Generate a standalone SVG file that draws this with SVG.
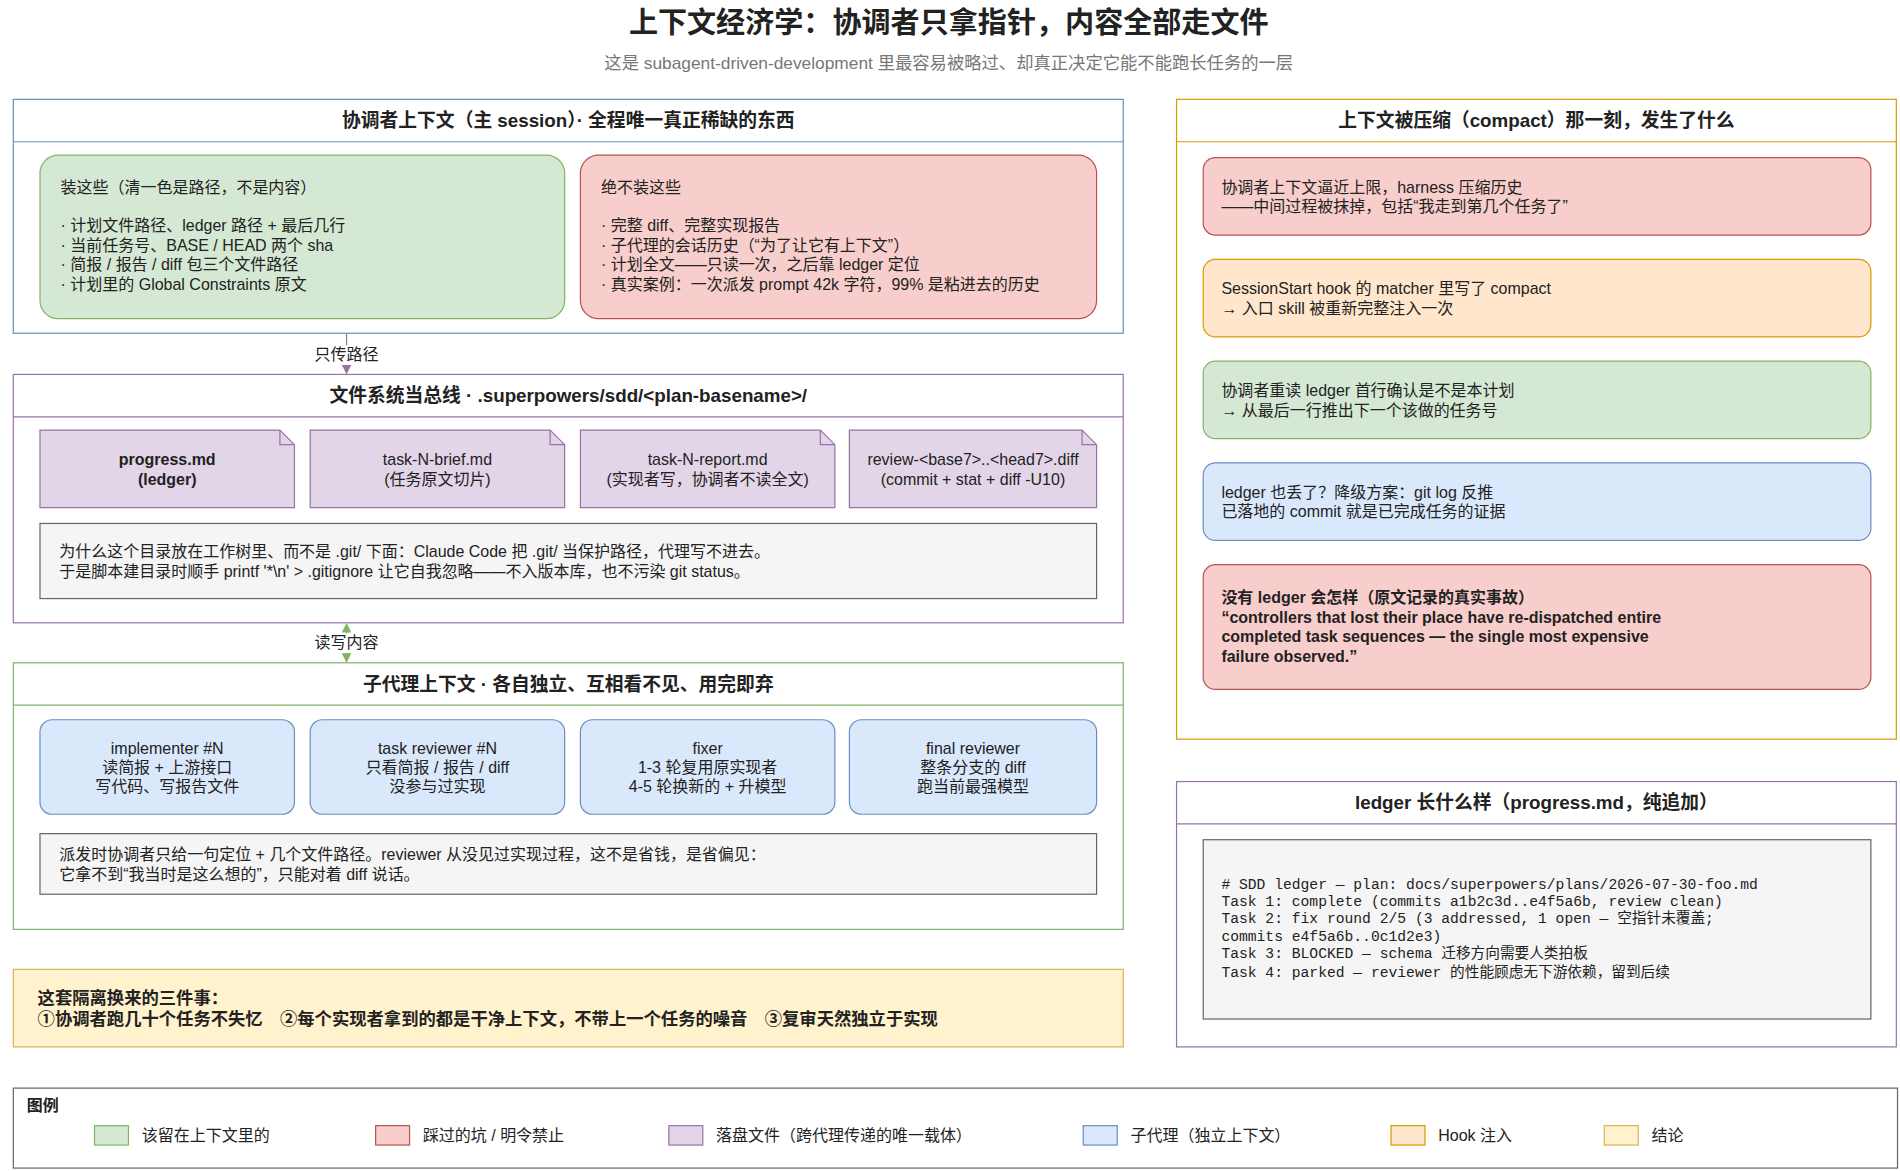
<svg xmlns="http://www.w3.org/2000/svg" width="1900" height="1171" viewBox="0 0 1900 1171">
<style>
text{font-family:"Liberation Sans","Noto Sans CJK SC",sans-serif;font-size:13.2px;fill:#222}
.t{font-size:24px;font-weight:bold;text-anchor:middle}
.st{font-size:14.3px;fill:#777;text-anchor:middle}
.h{font-size:15.5px;font-weight:bold;text-anchor:middle}
.c{text-anchor:middle}
.b{font-weight:bold}
.cb{font-weight:bold;font-size:14.3px}
.m{font-family:"Liberation Mono","Noto Sans CJK SC",monospace;font-size:12.1px}
.g{fill:#d5e8d4;stroke:#82b366}
.r{fill:#f8cecc;stroke:#b85450}
.p{fill:#e1d5e7;stroke:#9673a6}
.bl{fill:#dae8fc;stroke:#6c8ebf}
.o{fill:#ffe6cc;stroke:#d79b00}
.y{fill:#fff2cc;stroke:#d6b656}
.n{fill:#f5f5f5;stroke:#666}
.box{fill:#fff}
</style>
<defs>
<marker id="ap" markerWidth="8" markerHeight="8" refX="7" refY="4" orient="auto" markerUnits="userSpaceOnUse"><path d="M0,0L8,4L0,8z" fill="#9673a6"/></marker>
<marker id="ag" markerWidth="8" markerHeight="8" refX="7" refY="4" orient="auto-start-reverse" markerUnits="userSpaceOnUse"><path d="M0,0L8,4L0,8z" fill="#82b366"/></marker>
</defs>
<rect width="1900" height="1171" fill="#fff"/>
<g transform="scale(1.2117)">
<g id="title"><text class="t" x="783" y="27">上下文经济学：协调者只拿指针，内容全部走文件</text>
<text class="st" x="783" y="57">这是 subagent-driven-development 里最容易被略过、却真正决定它能不能跑长任务的一层</text></g>

<g id="coord">
<rect class="box" x="11" y="82" width="916" height="193" stroke="#6c8ebf"/>
<line x1="11" y1="117" x2="927" y2="117" stroke="#6c8ebf"/>
<text class="h" x="469" y="105">协调者上下文（主 session）· 全程唯一真正稀缺的东西</text>
</g>
<g id="keep"><rect class="g" x="33" y="128" width="433" height="135" rx="15"/>
<text x="50" y="159">装这些（清一色是路径，不是内容）</text>
<text x="50" y="191">· 计划文件路径、ledger 路径 + 最后几行</text>
<text x="50" y="207">· 当前任务号、BASE / HEAD 两个 sha</text>
<text x="50" y="223">· 简报 / 报告 / diff 包三个文件路径</text>
<text x="50" y="239">· 计划里的 Global Constraints 原文</text></g>
<g id="never"><rect class="r" x="479" y="128" width="426" height="135" rx="15"/>
<text x="496" y="159">绝不装这些</text>
<text x="496" y="191">· 完整 diff、完整实现报告</text>
<text x="496" y="207">· 子代理的会话历史（“为了让它有上下文”）</text>
<text x="496" y="223">· 计划全文——只读一次，之后靠 ledger 定位</text>
<text x="496" y="239">· 真实案例：一次派发 prompt 42k 字符，99% 是粘进去的历史</text></g>

<g id="fs">
<rect class="box" x="11" y="309" width="916" height="205" stroke="#9673a6"/>
<line x1="11" y1="344" x2="927" y2="344" stroke="#9673a6"/>
<text class="h" x="469" y="332">文件系统当总线 · .superpowers/sdd/&lt;plan-basename&gt;/</text>
</g>
<g id="f1"><path class="p" d="M33,355H231L243,367V419H33Z"/><path d="M231,355V367H243" fill="none" stroke="#9673a6"/>
<text class="c b" x="138" y="384">progress.md</text><text class="c b" x="138" y="400">(ledger)</text></g>
<g id="f2"><path class="p" d="M256,355H454L466,367V419H256Z"/><path d="M454,355V367H466" fill="none" stroke="#9673a6"/>
<text class="c" x="361" y="384">task-N-brief.md</text><text class="c" x="361" y="400">(任务原文切片)</text></g>
<g id="f3"><path class="p" d="M479,355H677L689,367V419H479Z"/><path d="M677,355V367H689" fill="none" stroke="#9673a6"/>
<text class="c" x="584" y="384">task-N-report.md</text><text class="c" x="584" y="400">(实现者写，协调者不读全文)</text></g>
<g id="f4"><path class="p" d="M701,355H893L905,367V419H701Z"/><path d="M893,355V367H905" fill="none" stroke="#9673a6"/>
<text class="c" x="803" y="384">review-&lt;base7&gt;..&lt;head7&gt;.diff</text><text class="c" x="803" y="400">(commit + stat + diff -U10)</text></g>
<g id="fsnote"><rect class="n" x="33" y="432" width="872" height="62"/>
<text x="49" y="460">为什么这个目录放在工作树里、而不是 .git/ 下面：Claude Code 把 .git/ 当保护路径，代理写不进去。</text>
<text x="49" y="476">于是脚本建目录时顺手 printf '*\n' &gt; .gitignore 让它自我忽略——不入版本库，也不污染 git status。</text></g>

<g id="sub">
<rect class="box" x="11" y="547" width="916" height="220" stroke="#82b366"/>
<line x1="11" y1="582" x2="927" y2="582" stroke="#82b366"/>
<text class="h" x="469" y="570">子代理上下文 · 各自独立、互相看不见、用完即弃</text>
</g>
<g id="s1"><rect class="bl" x="33" y="594" width="210" height="78" rx="10"/>
<text class="c" x="138" y="622">implementer #N</text><text class="c" x="138" y="638">读简报 + 上游接口</text><text class="c" x="138" y="654">写代码、写报告文件</text></g>
<g id="s2"><rect class="bl" x="256" y="594" width="210" height="78" rx="10"/>
<text class="c" x="361" y="622">task reviewer #N</text><text class="c" x="361" y="638">只看简报 / 报告 / diff</text><text class="c" x="361" y="654">没参与过实现</text></g>
<g id="s3"><rect class="bl" x="479" y="594" width="210" height="78" rx="10"/>
<text class="c" x="584" y="622">fixer</text><text class="c" x="584" y="638">1-3 轮复用原实现者</text><text class="c" x="584" y="654">4-5 轮换新的 + 升模型</text></g>
<g id="s4"><rect class="bl" x="701" y="594" width="204" height="78" rx="10"/>
<text class="c" x="803" y="622">final reviewer</text><text class="c" x="803" y="638">整条分支的 diff</text><text class="c" x="803" y="654">跑当前最强模型</text></g>
<g id="subnote"><rect class="n" x="33" y="688" width="872" height="50"/>
<text x="49" y="710">派发时协调者只给一句定位 + 几个文件路径。reviewer 从没见过实现过程，这不是省钱，是省偏见：</text>
<text x="49" y="726">它拿不到“我当时是这么想的”，只能对着 diff 说话。</text></g>

<g id="concl"><rect class="y" x="11" y="800" width="916" height="64"/>
<text class="cb" x="31" y="829">这套隔离换来的三件事：</text>
<text class="cb" x="31" y="846">①协调者跑几十个任务不失忆　②每个实现者拿到的都是干净上下文，不带上一个任务的噪音　③复审天然独立于实现</text></g>

<g id="compact">
<rect class="box" x="971" y="82" width="594" height="528" stroke="#d79b00"/>
<line x1="971" y1="117" x2="1565" y2="117" stroke="#d79b00"/>
<text class="h" x="1268" y="105">上下文被压缩（compact）那一刻，发生了什么</text>
</g>
<g id="c1"><rect class="r" x="993" y="130" width="551" height="64" rx="10"/>
<text x="1008" y="159">协调者上下文逼近上限，harness 压缩历史</text><text x="1008" y="175">——中间过程被抹掉，包括“我走到第几个任务了”</text></g>
<g id="c2"><rect class="o" x="993" y="214" width="551" height="64" rx="10"/>
<text x="1008" y="243">SessionStart hook 的 matcher 里写了 compact</text><text x="1008" y="259">→ 入口 skill 被重新完整注入一次</text></g>
<g id="c3"><rect class="g" x="993" y="298" width="551" height="64" rx="10"/>
<text x="1008" y="327">协调者重读 ledger 首行确认是不是本计划</text><text x="1008" y="343">→ 从最后一行推出下一个该做的任务号</text></g>
<g id="c4"><rect class="bl" x="993" y="382" width="551" height="64" rx="10"/>
<text x="1008" y="411">ledger 也丢了？降级方案：git log 反推</text><text x="1008" y="427">已落地的 commit 就是已完成任务的证据</text></g>
<g id="c5"><rect class="r" x="993" y="466" width="551" height="103" rx="10"/>
<text class="b" x="1008" y="498">没有 ledger 会怎样（原文记录的真实事故）</text>
<text class="b" x="1008" y="514">“controllers that lost their place have re-dispatched entire</text>
<text class="b" x="1008" y="530">completed task sequences — the single most expensive</text>
<text class="b" x="1008" y="546">failure observed.”</text></g>

<g id="ledger">
<rect class="box" x="971" y="645" width="594" height="219" stroke="#9673a6"/>
<line x1="971" y1="680" x2="1565" y2="680" stroke="#9673a6"/>
<text class="h" x="1268" y="668">ledger 长什么样（progress.md，纯追加）</text>
<rect class="n" x="993" y="693" width="551" height="148"/>
<text class="m" x="1008" y="734"># SDD ledger — plan: docs/superpowers/plans/2026-07-30-foo.md</text>
<text class="m" x="1008" y="748">Task 1: complete (commits a1b2c3d..e4f5a6b, review clean)</text>
<text class="m" x="1008" y="762">Task 2: fix round 2/5 (3 addressed, 1 open — 空指针未覆盖;</text>
<text class="m" x="1008" y="777">commits e4f5a6b..0c1d2e3)</text>
<text class="m" x="1008" y="791">Task 3: BLOCKED — schema 迁移方向需要人类拍板</text>
<text class="m" x="1008" y="806">Task 4: parked — reviewer 的性能顾虑无下游依赖，留到后续</text>
</g>

<g id="legend"><rect x="11" y="898" width="1555" height="66" fill="#fff" stroke="#666"/>
<text class="b" x="22" y="917">图例</text>
<rect class="g" x="78" y="929" width="28" height="16"/><text x="117" y="942">该留在上下文里的</text>
<rect class="r" x="310" y="929" width="28" height="16"/><text x="349" y="942">踩过的坑 / 明令禁止</text>
<rect class="p" x="552" y="929" width="28" height="16"/><text x="591" y="942">落盘文件（跨代理传递的唯一载体）</text>
<rect class="bl" x="894" y="929" width="28" height="16"/><text x="933" y="942">子代理（独立上下文）</text>
<rect class="o" x="1148" y="929" width="28" height="16"/><text x="1187" y="942">Hook 注入</text>
<rect class="y" x="1324" y="929" width="28" height="16"/><text x="1363" y="942">结论</text></g>

<g id="connectors">
<line x1="286" y1="275" x2="286" y2="308" stroke="#9673a6" marker-end="url(#ap)"/>
<rect x="256" y="285" width="60" height="16" fill="#fff"/>
<text class="c" x="286" y="297">只传路径</text>
<line x1="286" y1="515" x2="286" y2="546" stroke="#82b366" marker-start="url(#ag)" marker-end="url(#ag)"/>
<rect x="256" y="523" width="60" height="16" fill="#fff"/>
<text class="c" x="286" y="535">读写内容</text>
</g>
</g>
</svg>
